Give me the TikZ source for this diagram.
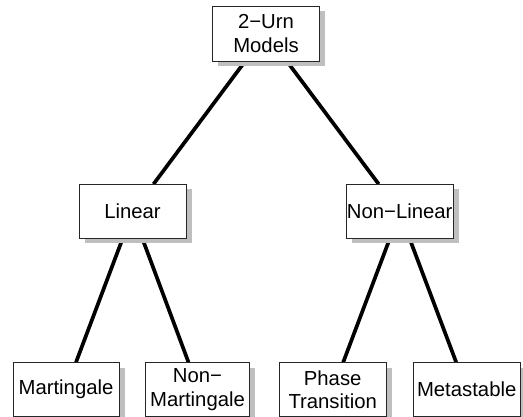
\documentclass[tikz,border=0pt]{standalone}
\usepackage{fontspec}
\setmainfont{Liberation Sans}
\usetikzlibrary{shadows,backgrounds}

\begin{document}
\begin{tikzpicture}[x=1pt,y=-1pt,
    box/.style={draw=black!85,line width=0.8pt,fill=white,
      minimum width=107pt,minimum height=54pt,inner sep=0pt,align=center,
      font=\fontsize{20.3}{23.5}\selectfont,
      drop shadow={shadow xshift=5.5pt,shadow yshift=-5pt,fill=black!25,opacity=1}},
    link/.style={line width=3.7pt}]

  \useasboundingbox (0,0) rectangle (523,417);

  \node[box,minimum height=55pt] (urn) at (266,33.5) {2−Urn\\Models}; % root

  \node[box] (lin) at (132.5,211.5) {Linear};
  \node[box] (nonlin) at (399.7,211.5) {Non−Linear};

  \node[box,minimum width=106pt] (mart) at (66,389.7) {Martingale};
  \node[box,minimum width=104pt] (nonmart) at (197.5,389.7) {Non−\\Martingale};
  \node[box] (phase) at (332.7,389.7) {Phase\\Transition};
  \node[box] (meta) at (466.7,389.7) {Metastable};

  \begin{pgfonlayer}{background}
    \draw[link] ([xshift=-21pt]urn.south) -- ([xshift=21pt]lin.north);
    \draw[link] ([xshift=21pt]urn.south) -- ([xshift=-21pt]nonlin.north);

    \draw[link] ([xshift=-10pt]lin.south) -- ([xshift=10pt]mart.north);
    \draw[link] ([xshift=10pt]lin.south) -- ([xshift=-9pt]nonmart.north);

    \draw[link] ([xshift=-10pt]nonlin.south) -- ([xshift=10.5pt]phase.north);
    \draw[link] ([xshift=10pt]nonlin.south) -- ([xshift=-10.5pt]meta.north);
  \end{pgfonlayer}

\end{tikzpicture}
\end{document}
